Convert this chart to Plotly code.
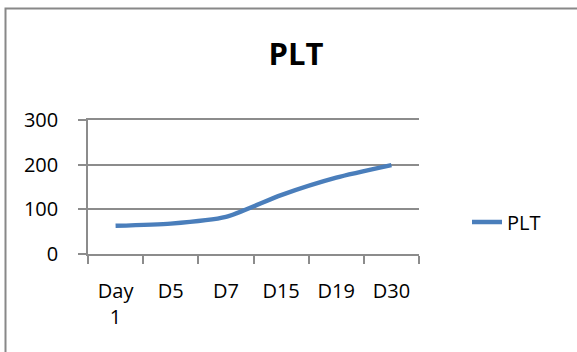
import plotly.graph_objects as go

# Platelet count over the course of treatment
days = ["Day<br>1", "D5", "D7", "D15", "D19", "D30"]
plt_values = [63, 68, 83, 132, 171, 199]
y_ticks = [0, 100, 200, 300]

FONT = "Open Sans"
GRID = "#8c8c8c"
LINE = "#4a7ebb"

# plot-area pixel frame, used to place the outer border in paper units
L, R, T, B = 88, 419, 120, 254
W, H = 577, 352
pw, ph = R - L, B - T


def px_x(v):
    return (v - L) / pw


def px_y(v):
    return (B - v) / ph


fig = go.Figure()
fig.add_trace(go.Scatter(
    x=days, y=plt_values, mode="lines", name="PLT",
    line=dict(color=LINE, width=4.5, shape="spline", smoothing=0.6),
))

fig.update_layout(
    width=W, height=H,
    margin=dict(l=L, r=W - R, t=T, b=H - B),
    paper_bgcolor="white", plot_bgcolor="white",
    font=dict(family=FONT, size=20, color="black"),
    title=dict(text="<b>PLT</b>", x=(296 - L) / pw, xref="paper", xanchor="center",
               y=1 - 54 / H, yanchor="middle",
               font=dict(family=FONT, size=31, color="black")),
    showlegend=True,
    legend=dict(x=px_x(467), y=px_y(222), xanchor="left", yanchor="middle",
                bgcolor="rgba(0,0,0,0)", font=dict(size=20)),
    xaxis=dict(type="category", range=[-0.5, 5.5], showgrid=False,
               showline=True, linecolor=GRID, linewidth=1.5, mirror=True,
               ticks="outside", tickson="boundaries", ticklen=8,
               tickcolor=GRID, tickwidth=1.5, ticklabelstandoff=18,
               zeroline=False),
    yaxis=dict(range=[0, 300], tickvals=y_ticks, showgrid=True,
               gridcolor=GRID, gridwidth=1.5,
               showline=True, linecolor=GRID, linewidth=1.5,
               ticks="outside", ticklen=8, tickcolor=GRID, tickwidth=1.5,
               ticklabelstandoff=16, zeroline=False),
    shapes=[dict(type="rect", xref="paper", yref="paper",
                 x0=px_x(5.5), x1=px_x(W + 20), y0=px_y(8.5), y1=px_y(H + 20),
                 line=dict(color="#888888", width=2), fillcolor="rgba(0,0,0,0)",
                 layer="below")],
)

fig.write_html("out.html")
